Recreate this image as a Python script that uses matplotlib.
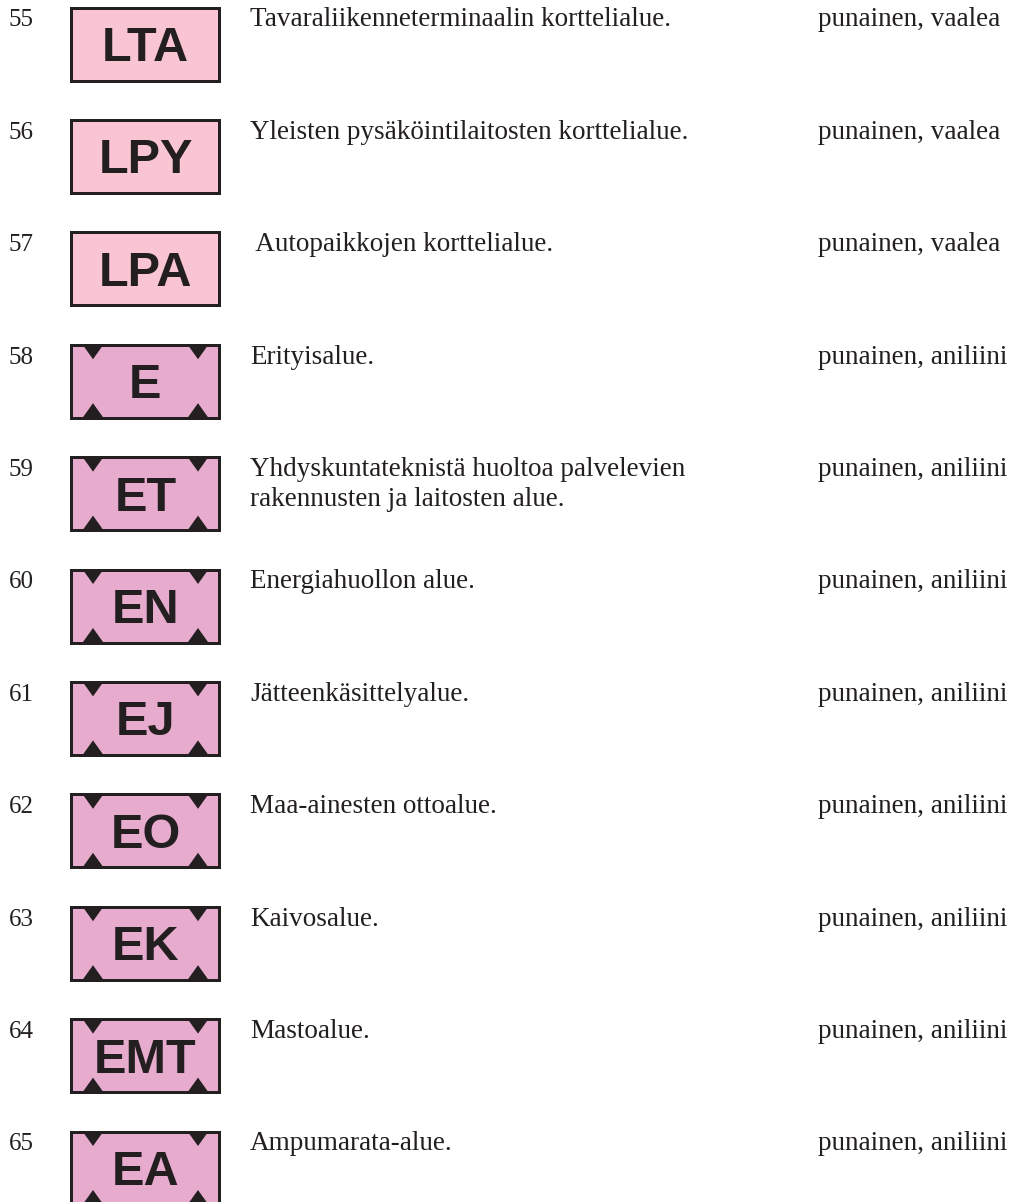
import matplotlib
matplotlib.use("Agg")
import matplotlib.pyplot as plt
from matplotlib.patches import Rectangle, Polygon

# Merkinnät (kaavamerkinnät 55-65)
numbers = [55, 56, 57, 58, 59, 60, 61, 62, 63, 64, 65]
codes = ["LTA", "LPY", "LPA", "E", "ET", "EN", "EJ", "EO", "EK", "EMT", "EA"]
descriptions = [
    "Tavaraliikenneterminaalin korttelialue.",
    "Yleisten pysäköintilaitosten korttelialue.",
    " Autopaikkojen korttelialue.",
    "Erityisalue.",
    "Yhdyskuntateknistä huoltoa palvelevien\nrakennusten ja laitosten alue.",
    "Energiahuollon alue.",
    "Jätteenkäsittelyalue.",
    "Maa-ainesten ottoalue.",
    "Kaivosalue.",
    "Mastoalue.",
    "Ampumarata-alue.",
]
colour_names = ["punainen, vaalea"] * 3 + ["punainen, aniliini"] * 8
special_area = [False] * 3 + [True] * 8

fill_colours = {"punainen, vaalea": "#f9c5d2", "punainen, aniliini": "#e6abcd"}
ink = "#231f20"

W, H = 1015, 1202
fig = plt.figure(figsize=(W / 100, H / 100), dpi=100)
ax = fig.add_axes([0, 0, 1, 1])
ax.set_xlim(0, W)
ax.set_ylim(H, 0)
ax.axis("off")

serif = "Liberation Serif"
sans = "Liberation Sans"

top0 = 6
pitch = 112.4
box_x, box_w, box_h = 70, 151, 76
lw_px = 3
lw = lw_px * 72 / 100

for i, num in enumerate(numbers):
    top = top0 + i * pitch
    fc = fill_colours[colour_names[i]]
    ax.add_patch(Rectangle((box_x + lw_px / 2, top + lw_px / 2),
                           box_w - lw_px, box_h - lw_px,
                           facecolor=fc, edgecolor=ink, linewidth=lw))
    if special_area[i]:
        for cx in (box_x + 23, box_x + box_w - 23):
            # kolmiot ylä- ja alareunassa
            ax.add_patch(Polygon([(cx - 10, top + 2), (cx + 10, top + 2), (cx, top + 16)],
                                 closed=True, facecolor=ink, edgecolor="none"))
            ax.add_patch(Polygon([(cx - 10, top + box_h - 2), (cx + 10, top + box_h - 2),
                                  (cx, top + box_h - 16)],
                                 closed=True, facecolor=ink, edgecolor="none"))
    ax.text(box_x + box_w / 2, top + 55, codes[i], family=sans, fontweight="bold",
            fontsize=35, color=ink, ha="center", va="baseline")

    base = top + 20.5
    ax.text(9, base, str(num), family=serif, fontsize=18, color=ink,
            ha="left", va="baseline")
    for k, line in enumerate(descriptions[i].split("\n")):
        ax.text(250, base + k * 30, line, family=serif, fontsize=19.5, color=ink,
                ha="left", va="baseline")
    ax.text(818, base, colour_names[i], family=serif, fontsize=19.5, color=ink,
            ha="left", va="baseline")

fig.savefig("out.png", dpi=100)
